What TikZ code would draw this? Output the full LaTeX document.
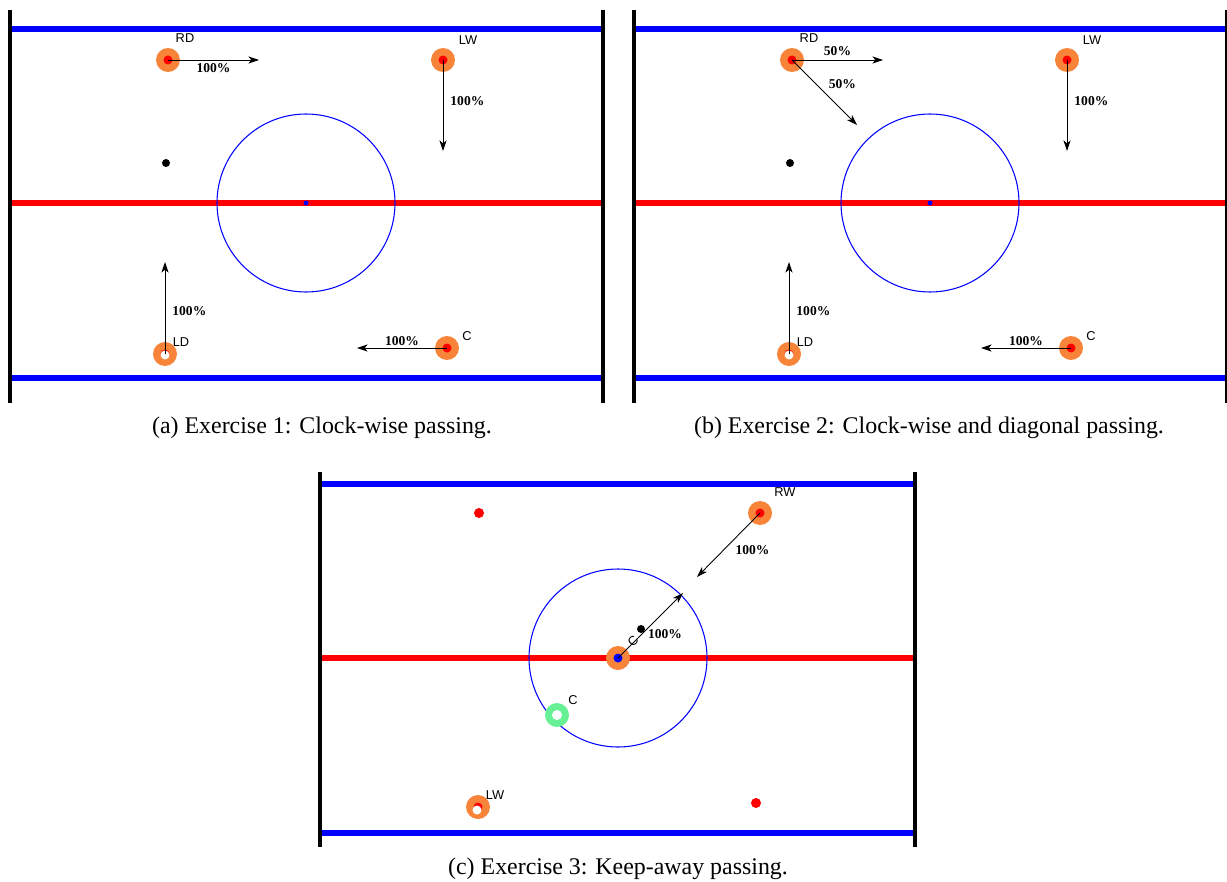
\documentclass[tikz,border=0pt]{standalone}
\usepackage{fontspec}
\setmainfont{Liberation Serif}
\setsansfont{Liberation Sans}
\usetikzlibrary{arrows.meta,calc,positioning}

\definecolor{skaterorange}{RGB}{248,132,58}
\definecolor{skatergreen}{RGB}{104,240,150}

\tikzset{
  board/.style={line width=2.6pt,black},
  blueline/.style={line width=3.3pt,blue},
  redline/.style={line width=3.3pt,red},
  faceoff/.style={blue,line width=0.6pt},
  player/.style={circle,fill=skaterorange,minimum size=0.48cm,inner sep=0pt},
  pass/.style={-{Stealth[length=6pt,width=4pt,inset=1.6pt]},line width=0.5pt},
  pct/.style={font=\fontsize{7.7}{9}\selectfont\bfseries,inner sep=1pt},
  tag/.style={font=\sffamily\fontsize{7.3}{8}\selectfont,inner sep=0pt},
  caption/.style={font=\fontsize{13.6}{15}\selectfont,inner sep=0pt}
}

\begin{document}
\begin{tikzpicture}[x=0.02cm,y=-0.02cm]
    \useasboundingbox (0,0) rectangle (1227,882);

    % exercises 1 and 2: same rink twice
    \foreach \dx/\lt in {0/a,624/b} {
      \begin{scope}[xshift=\dx*0.02cm]
        \draw[blueline] (10,29)--(603,29);
        \draw[blueline] (10,378)--(603,378);
        \draw[redline] (10,203)--(603,203);
        \draw[board] (10,10)--(10,403);
        \draw[board] (603,10)--(603,403);
        \draw[faceoff] (306,203) circle (89);
        \fill[blue] (306,203) circle (2.5);
        \fill (166,163) circle (4);

        \node[player] (rd\lt) at (168,60) {};
        \node[player] (lw\lt) at (443,60) {};
        \node[player] (ld\lt) at (165,354) {};
        \node[player] (c\lt)  at (447,348) {};
        \fill[red] (rd\lt) circle (4.5);
        \fill[red] (lw\lt) circle (4.5);
        \fill[red] (c\lt) circle (4.5);
        \fill[red] (ld\lt) circle (4.5);
        \fill[white] ($(ld\lt)+(0,1)$) circle (4.5);

        \node[tag] at (185,38) {RD};
        \node[tag] at (468,40) {LW};
        \node[tag] at (181,342) {LD};
        \node[tag] at (467,336) {C};

        \coordinate (lwto\lt) at (443,151);
        \coordinate (ldto\lt) at (165,262);
        \coordinate (cto\lt) at (357,348);
        \draw[pass] (lw\lt.center)--(lwto\lt) node[pct,pos=0.45,right=3pt] {100\%};
        \draw[pass] (ld\lt.center)--(ldto\lt) node[pct,pos=0.47,right=3pt] {100\%};
        \draw[pass] (c\lt.center)--(cto\lt) node[pct,midway,above] {100\%};
      \end{scope}
    }

    % exercise 1: RD straight across
    \coordinate (rdtoa) at (259,60);
    \draw[pass] (rda.center)--(rdtoa) node[pct,midway,below=1pt] {100\%};

    % exercise 2: RD split across and diagonal
    \coordinate (rdtob) at (883,60);
    \coordinate (rddiag) at (857,125);
    \draw[pass] (rdb.center)--(rdtob) node[pct,midway,above=1pt] {50\%};
    \draw[pass] (rdb.center)--(rddiag) node[pct,pos=0.48,above right=0pt and 2pt] {50\%};

    \node[caption] at (322,428) {(a) Exercise 1: Clock-wise passing.};
    \node[caption] at (929,428) {(b) Exercise 2: Clock-wise and diagonal passing.};

    % exercise 3
    \draw[blueline] (320,484)--(915,484);
    \draw[blueline] (320,833)--(915,833);
    \draw[redline] (320,658)--(915,658);
    \draw[board] (320,472)--(320,847);
    \draw[board] (915,472)--(915,847);
    \draw[faceoff] (618,658) circle (89);

    \fill[red] (479,513) circle (5);
    \fill[red] (756,803) circle (5);
    \fill (641,629) circle (4);

    \node[player] (rw) at (760,513) {};
    \node[player] (cc) at (618,658) {};
    \node[player] (lw) at (478,807) {};
    \node[circle,fill=skatergreen,minimum size=0.48cm,inner sep=0pt] (cg) at (557,715) {};
    \fill[red] (rw) circle (4.5);
    \fill[blue] (cc) circle (4.5);
    \fill[red] (lw) circle (4.5);
    \fill[white] ($(lw)+(-1,3)$) circle (4.5);
    \fill[white] (cg) circle (5);

    \node[tag] at (785,492) {RW};
    \node[tag] at (495,795) {LW};
    \node[tag] at (573,700) {C};
    \node[tag,rotate=45] at (633,641) {C};

    \coordinate (rwto) at (697,577);
    \coordinate (ccto) at (683,593);
    \draw[pass] (rw.center)--(rwto) node[pct,pos=0.45,below right=1pt and 1pt] {100\%};
    \draw[pass] (cc.center)--(ccto);
    \node[pct] at (665,634) {100\%};

    \node[caption] at (618,869) {(c) Exercise 3: Keep-away passing.};
\end{tikzpicture}
\end{document}
